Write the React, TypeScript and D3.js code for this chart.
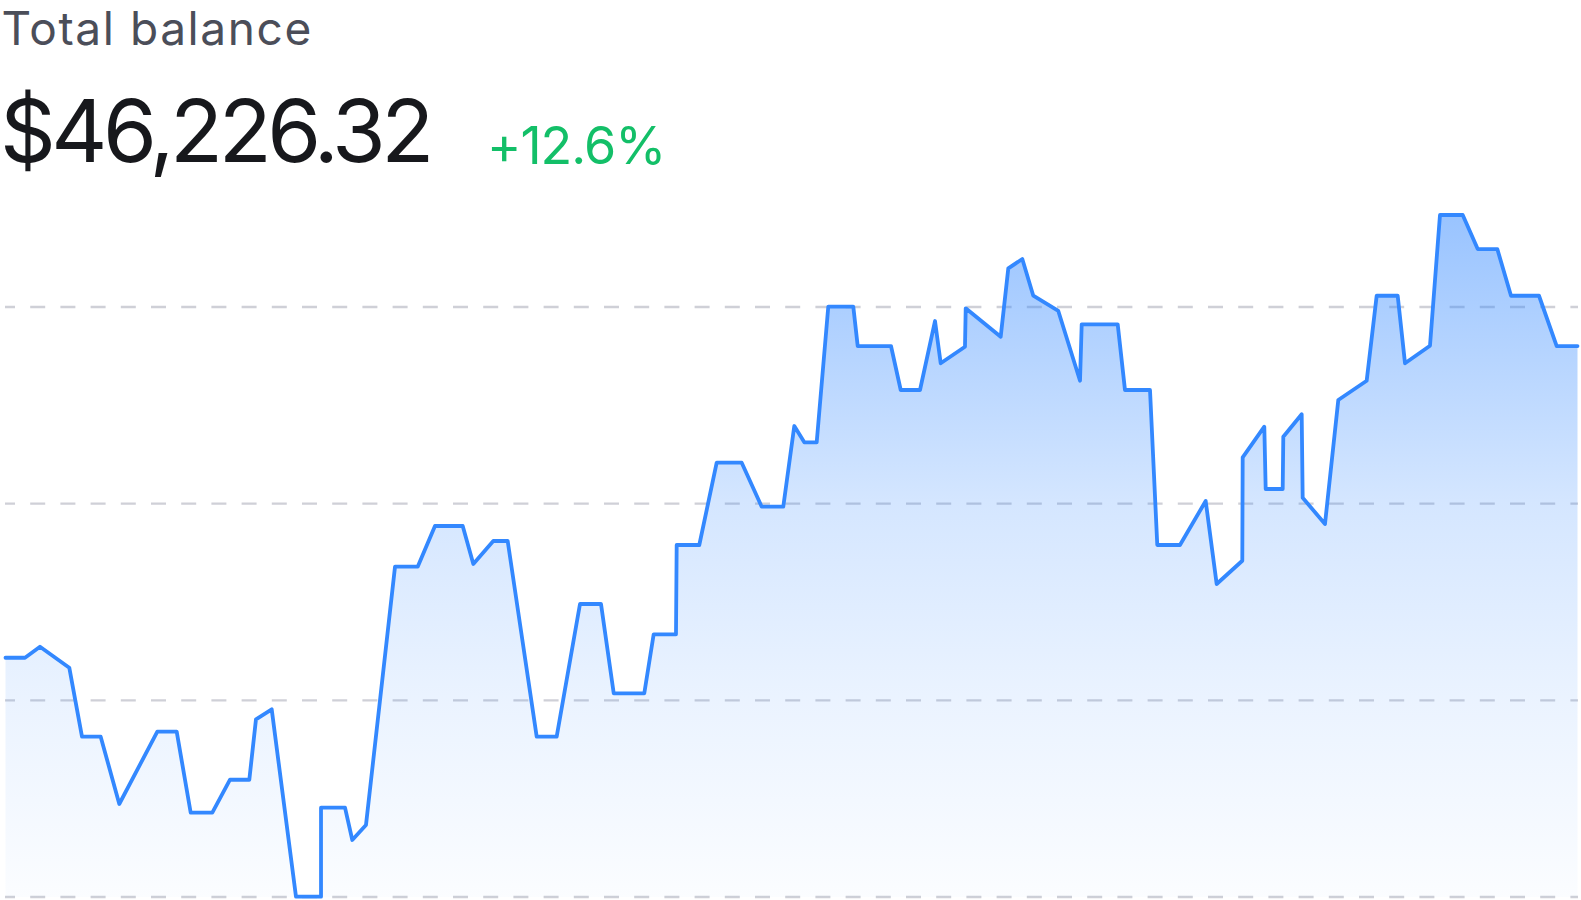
import React from "react";
import * as d3 from "d3";

// Days since start of period
const days: number[] = [
  0, 4.53, 8.01, 14.81, 17.76, 22.1, 26.42, 35.25, 39.75, 43.0, 48.02, 52.13, 56.61, 58.16, 61.81,
  67.45, 73.26, 73.26, 78.83, 80.52, 83.7, 90.44, 95.71, 99.72, 106.16, 108.62, 113.26, 116.6,
  123.34, 127.98, 133.39, 138.27, 141.22, 148.32, 150.5, 155.68, 155.84, 161.09, 165.13, 170.94,
  175.58, 180.59, 183.15, 185.47, 188.35, 191.04, 196.85, 197.87, 205.6, 207.86, 212.34, 215.82,
  217.14, 222.78, 222.95, 231.07, 232.84, 236.09, 238.64, 244.45, 249.49, 249.88, 258.24, 259.93,
  265.74, 267.43, 272.7, 278.67, 281.22, 287.17, 287.26, 292.28, 292.6, 296.55, 296.69, 300.96,
  301.19, 306.37, 309.46, 316.05, 318.37, 323.25, 324.95, 330.75, 333.07, 338.35, 341.83, 346.38,
  349.56, 356.06, 360.17, 365,
];

// Balance in USD
const balances: number[] = [
  40954, 40954, 41136, 40789, 39649, 39649, 38537, 39732, 39732, 38393, 38393, 38938, 38938, 39937,
  40102, 37005, 37005, 38476, 38476, 37942, 38190, 42458, 42458, 43131, 43131, 42503, 42883, 42883,
  39649, 39649, 41842, 41842, 40366, 40366, 41341, 41341, 42817, 42817, 44177, 44177, 43450, 43450,
  44783, 44514, 44514, 46755, 46755, 46105, 46105, 45378, 45378, 46518, 45820, 46094, 46728, 46259,
  47389, 47543, 46936, 46684, 45532, 46464, 46464, 45378, 45378, 42817, 42817, 43544, 42172, 42557,
  44266, 44772, 43742, 43742, 44606, 44977, 43598, 43164, 45213, 45532, 46936, 46936, 45820, 46110,
  48270, 48270, 47708, 47708, 46936, 46936, 46105, 46105,
];

// Horizontal guide values
const gridValues: number[] = [37000, 40250, 43500, 46750];

const titleText = "Total balance";
const amountText = "$46,226.32";
const changeText = "+12.6%";

const W = 1581;
const H = 900;

export default function App() {
  const points = days.map((d, i) => ({ d, v: balances[i] }));
  const x = d3.scaleLinear().domain([0, 365]).range([5.5, 1577.5]);
  const y = d3.scaleLinear().domain([37000, 46750]).range([897, 307]);

  const line = d3
    .line<{ d: number; v: number }>()
    .x((p) => x(p.d))
    .y((p) => y(p.v));
  const area = d3
    .area<{ d: number; v: number }>()
    .x((p) => x(p.d))
    .y0(y(37000))
    .y1((p) => y(p.v));

  const topY = y(d3.max(balances) as number);

  return (
    <svg
      width={W}
      height={H}
      style={{ position: "absolute", left: 0, top: 0, display: "block" }}
      fontFamily="Inter, 'Noto Sans', sans-serif"
    >
      <defs>
        <linearGradient id="fillGrad" gradientUnits="userSpaceOnUse" x1={0} x2={0} y1={topY} y2={y(37000)}>
          <stop offset="0" stopColor="#3388ff" stopOpacity={0.5} />
          <stop offset="0.42" stopColor="#3388ff" stopOpacity={0.21} />
          <stop offset="0.71" stopColor="#3388ff" stopOpacity={0.1} />
          <stop offset="1" stopColor="#3388ff" stopOpacity={0.02} />
        </linearGradient>
      </defs>
      <rect width={W} height={H} fill="#ffffff" />
      {gridValues.map((g) => (
        <line
          key={g}
          x1={5}
          x2={1578}
          y1={y(g)}
          y2={y(g)}
          stroke="#cfd0d7"
          strokeWidth={2.4}
          strokeDasharray="15 15.2"
          strokeDashoffset={5}
        />
      ))}
      <path d={area(points) || ""} fill="url(#fillGrad)" />
      <path
        d={line(points) || ""}
        fill="none"
        stroke="#3388ff"
        strokeWidth={3.8}
        strokeLinejoin="round"
        strokeLinecap="round"
      />
      <text x={1.5} y={45} fontSize={46} fill="#4b4e59" letterSpacing={1.6}>
        {titleText}
      </text>
      <text x={0} y={162} fontSize={87} fill="#17181c" letterSpacing={-4.5}>
        {amountText}
      </text>
      <text x={487} y={164} fontSize={52} fill="#13bf68" letterSpacing={-1}>
        {changeText}
      </text>
    </svg>
  );
}
